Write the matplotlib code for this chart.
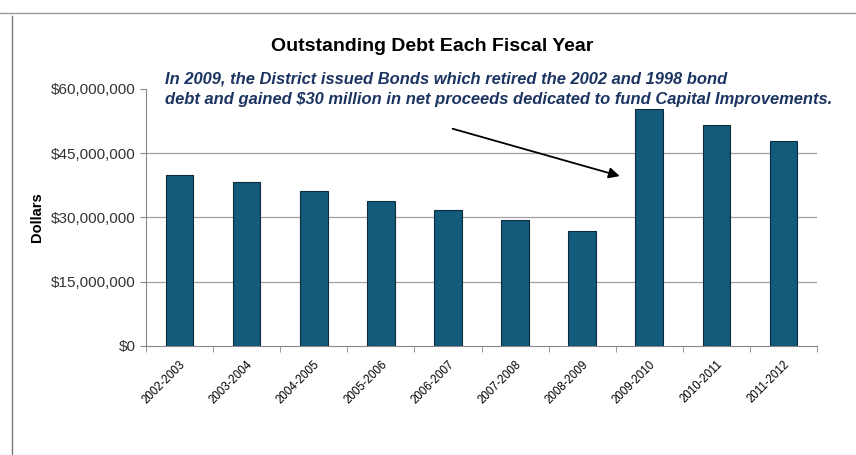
import numpy as np
import matplotlib.pyplot as plt
from matplotlib.lines import Line2D
from matplotlib.ticker import FuncFormatter

plt.rcParams['font.family'] = ['Liberation Sans', 'DejaVu Sans']

years = ['2002-2003', '2003-2004', '2004-2005', '2005-2006', '2006-2007',
         '2007-2008', '2008-2009', '2009-2010', '2010-2011', '2011-2012']
debt = [39.9e6, 38.3e6, 36.2e6, 33.9e6, 31.7e6,
        29.4e6, 26.8e6, 55.3e6, 51.6e6, 47.9e6]
y_ticks = [0, 15e6, 30e6, 45e6, 60e6]

note = ("In 2009, the District issued Bonds which retired the 2002 and 1998 bond\n"
        "debt and gained $30 million in net proceeds dedicated to fund Capital Improvements.")

fig = plt.figure(figsize=(8.56, 4.55), dpi=100)
ax = fig.add_axes([0.1706, 0.2396, 0.9544 - 0.1706, 0.8044 - 0.2396])

x = np.arange(len(years))
ax.bar(x, debt, width=0.41, color='#135a7b', edgecolor='#0a2c3c', linewidth=0.8, zorder=3)

ax.set_xlim(-0.5, len(years) - 0.5)
ax.set_ylim(0, 60e6)
ax.set_yticks(y_ticks)
ax.yaxis.set_major_formatter(FuncFormatter(lambda v, p: '${:,.0f}'.format(v)))
for v in y_ticks[1:-1]:
    ax.axhline(v, color='#a0a0a0', linewidth=0.9, zorder=1)

ax.set_xticks(x)
ax.set_xticklabels(years, rotation=45, ha='right', rotation_mode='anchor', fontsize=8.3)
ax.set_xticks(np.arange(len(years) + 1) - 0.5, minor=True)
ax.tick_params(axis='x', which='major', length=0, pad=9)
ax.tick_params(axis='x', which='minor', length=4, color='#888888')
ax.tick_params(axis='y', length=4, color='#888888', labelsize=11, labelcolor='#333333')

for s in ['top', 'right']:
    ax.spines[s].set_visible(False)
for s in ['left', 'bottom']:
    ax.spines[s].set_color('#888888')

ax.set_ylabel('Dollars', fontsize=10.5, fontweight='bold', labelpad=5)

fig.text(0.505, 0.897, 'Outstanding Debt Each Fiscal Year', ha='center', va='center',
         fontsize=14, fontweight='bold')
fig.text(0.193, 0.804, note, ha='left', va='center', fontsize=11.9, fontweight='bold',
         style='italic', color='#1c3461', linespacing=1.5)

ax.annotate('', xy=(6.6, 39.5e6), xytext=(4.03, 50.9e6),
            arrowprops=dict(arrowstyle='-|>', color='black', lw=1.3, mutation_scale=16))

# page border lines from the report
fig.add_artist(Line2D([0, 1], [0.972, 0.972], color='#999999', lw=1.0))
fig.add_artist(Line2D([0.014, 0.014], [0, 0.965], color='#777777', lw=1.0))

fig.savefig('out.png', dpi=100)
